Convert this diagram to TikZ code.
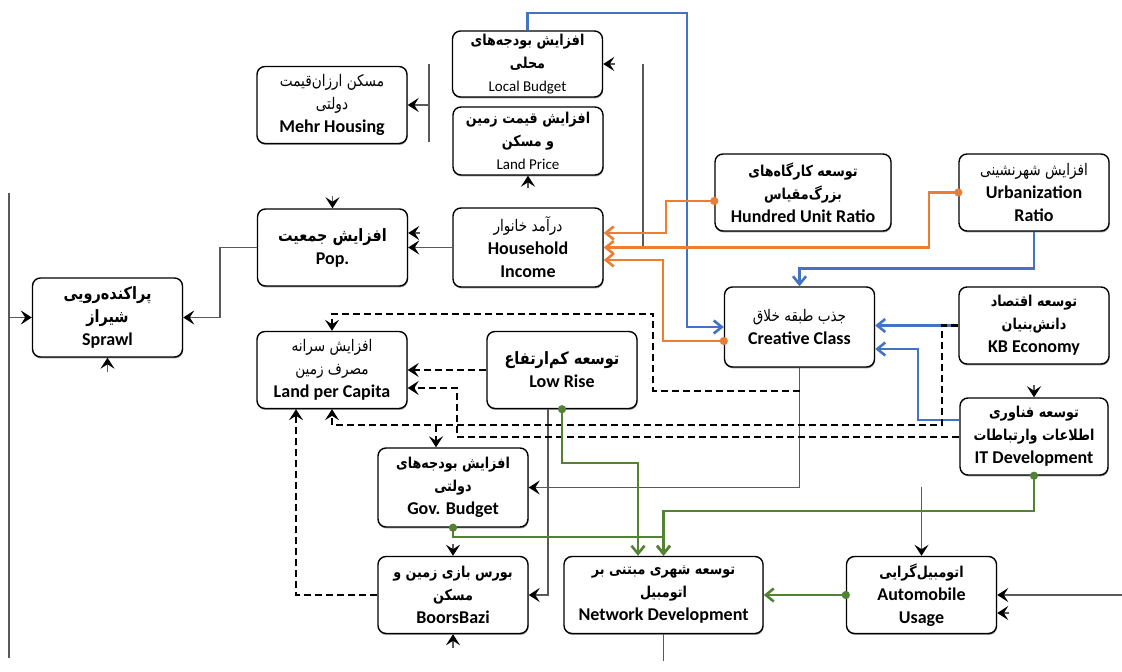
\documentclass[tikz,border=0pt]{standalone}
\usepackage{fontspec}
\setmainfont{Carlito}
\newfontfamily\farsi[Script=Arabic, FakeStretch=0.85]{DejaVu Sans}
\TeXXeTstate=1
\usetikzlibrary{arrows.meta,shadows,calc}

\definecolor{cblue}{HTML}{4472C4}
\definecolor{corange}{HTML}{ED7D31}
\definecolor{cgreen}{HTML}{548235}
\definecolor{linegray}{HTML}{595959}

\newcommand{\fatxt}[1]{{\farsi\mdseries\fontsize{8}{10}\selectfont\beginR #1\endR}}
\newcommand{\fabold}[1]{{\farsi\bfseries\fontsize{7.5}{10}\selectfont\beginR #1\endR}}
\newcommand{\fabig}[1]{{\farsi\bfseries\fontsize{8.5}{10}\selectfont\beginR #1\endR}}
\newcommand{\ensmall}[1]{{\fontsize{7.5}{11}\selectfont\mdseries #1}}

\tikzset{
  box/.style={draw, rounded corners=4pt, line width=0.7pt, fill=white, align=center,
    minimum width=75pt, minimum height=38.5pt, inner sep=1pt,
    font=\fontsize{9}{11.5}\selectfont\bfseries,
    drop shadow={shadow xshift=0.3pt, shadow yshift=-0.7pt, fill=black!80}},
  gline/.style={draw=linegray, line width=0.8pt},
  garrow/.style={gline, -{Stealth[length=5.5pt, width=7pt, inset=2.2pt, color=black]}},
  darrow/.style={draw=black, line width=1.1pt, dash pattern=on 3.5pt off 2pt,
    -{Stealth[length=5.5pt, width=7pt, inset=2.2pt]}},
  bline/.style={draw=cblue, line width=1.3pt, -{Straight Barb[length=4pt, width=6.5pt]}},
  oline/.style={draw=corange, line width=1.3pt, shorten <=-2pt,
    {Circle[length=4pt]}-{Straight Barb[length=4pt, width=6.5pt]}},
  gnline/.style={draw=cgreen, line width=1.3pt, shorten <=-2pt,
    {Circle[length=4pt]}-{Straight Barb[length=4pt, width=6.5pt]}}
}

\begin{document}
\begin{tikzpicture}[x=0.5pt, y=-0.5pt]
\useasboundingbox (0,0) rectangle (1122,672);

% boxes
\node[box] (mehr) at (332,105) {\fatxt{مسکن ارزان‌قیمت}\\ \fatxt{دولتی}\\ Mehr Housing};
\node[box, minimum height=33pt] (localb) at (527.5,64) {\fabold{افزایش بودجه‌های}\\ \fabold{محلی}\\ \ensmall{Local Budget}};
\node[box, minimum height=34pt] (landp) at (528,141) {\fabold{افزایش قیمت زمین}\\ \fabold{و مسکن}\\ \ensmall{Land Price}};
\node[box, minimum width=88pt] (hundred) at (803,192.5) {\fabold{توسعه کارگاه‌های}\\ \fabold{بزرگ‌مقیاس}\\ Hundred Unit Ratio};
\node[box] (urban) at (1034,192.5) {\fatxt{افزایش شهرنشینی}\\ Urbanization\\ Ratio};
\node[box] (pop) at (332.5,247.5) {\fabig{افزایش جمعیت}\\ Pop.};
\node[box, minimum height=39.5pt] (income) at (528,247.5) {\fatxt{درآمد خانوار}\\ Household\\ Income};
\node[box, minimum height=39.5pt] (sprawl) at (107.5,317.5) {\fabig{پراکنده‌رویی}\\ \fabig{شیراز}\\ Sprawl};
\node[box] (landpc) at (332,370) {\fatxt{افزایش سرانه}\\ \fatxt{مصرف زمین}\\ Land per Capita};
\node[box] (lowrise) at (562,370) {\fabig{توسعه کم‌ارتفاع}\\ Low Rise};
\node[box, minimum height=40pt] (creative) at (799.5,327) {\fatxt{جذب طبقه خلاق}\\ Creative Class};
\node[box] (kb) at (1034,325.5) {\fabold{توسعه اقتصاد}\\ \fabold{دانش‌بنیان}\\ KB Economy};
\node[box, minimum width=74pt] (itdev) at (1034,436.5) {\fabold{توسعه فناوری}\\ \fabold{اطلاعات وارتباطات}\\ IT Development};
\node[box, minimum height=39.5pt] (govb) at (453,487.5) {\fabold{افزایش بودجه‌های}\\ \fabold{دولتی}\\ Gov. Budget};
\node[box] (boors) at (453,595) {\fabold{بورس بازی زمین و}\\ \fabold{مسکن}\\ BoorsBazi};
\node[box, minimum width=99.5pt] (network) at (663.5,595) {\fabold{توسعه شهری مبتنی بر}\\ \fabold{اتومبیل}\\ Network Development};
\node[box] (auto) at (921.5,595) {\fabold{اتومبیل‌گرایی}\\ Automobile\\ Usage};

% free ends
\coordinate (leftT) at (9,193);
\coordinate (leftB) at (9,658);
\coordinate (leftA) at (9,317.5);
\coordinate (brkT) at (429,64);
\coordinate (brkB) at (429,142);
\coordinate (brkA) at (429,105);
\coordinate (incT) at (643,64);
\coordinate (incB) at (643,247.5);
\coordinate (autoT) at (921.5,487);
\coordinate (rightA) at (1122,595);

% grey connectors
\draw[gline] (leftT) -- (leftB);
\draw[garrow] (leftA) -- (sprawl.west);
\draw[gline] (brkT) -- (brkB);
\draw[garrow] (brkA) -- (mehr.east);
\draw[gline] (incT) -- (incB);
\draw[garrow] (pop.west) -- ++(-37,0) |- (sprawl.east);
\draw[garrow] (income.west) -- (pop.east);
\draw[garrow] (creative.south) |- (govb.east);
\draw[garrow] ([xshift=-7pt]lowrise.south) |- (boors.east);
\draw[garrow] (autoT) -- (auto.north);
\draw[garrow] (rightA) -- (auto.east);
\draw[gline] (network.south) -- ++(0,27);

% stubs
\draw[garrow] ($(pop.east |- 0,233)+(12,0)$) -- (pop.east |- 0,233);
\draw[garrow] ([yshift=6pt]pop.north) -- (pop.north);
\draw[garrow] ([xshift=6pt]localb.east) -- (localb.east);
\draw[garrow] ([yshift=-6pt]landp.south) -- (landp.south);
\draw[garrow] ([yshift=-7pt]sprawl.south) -- (sprawl.south);
\draw[garrow] ([yshift=6pt]boors.north) -- (boors.north);
\draw[garrow] ([yshift=-7pt]boors.south) -- (boors.south);
\draw[garrow] ([yshift=6pt]itdev.north) -- (itdev.north);
\draw[garrow] ($(auto.east |- 0,613)+(12,0)$) -- (auto.east |- 0,613);

% blue
\draw[bline] (localb.north) |- (687,13) |- (creative.west);
\draw[bline] (urban.south) -- ++(0,37) -| (creative.north);
\draw[bline] (kb.west) -- (creative.east |- kb.west);
\draw[bline] (itdev.west |- 0,420) -| (918,349) -- (creative.east |- 0,349);

% dashed
\draw[darrow] (creative.south |- 0,391) -| (653,314) -| (landpc.north);
\draw[darrow] (lowrise.west) -- (landpc.east);
\draw[darrow] (itdev.west |- 0,437) -| (457,388) -- (landpc.east |- 0,388);
\draw[darrow] (kb.west) -| (942,425) -| (landpc.south);
\draw[darrow] (436,425) -- (govb.north -| 436,0);
\draw[darrow] (boors.west) -| (landpc.south -| 296,0);

% orange
\draw[oline] (hundred.west |- 0,201) -| (666,233) -- (income.east |- 0,233);
\draw[oline] (urban.west) -| (929,247.5) -- (income.east);
\draw[oline] (creative.west |- 0,341) -| (663,260) -- (income.east |- 0,260);

% green
\draw[gnline] (lowrise.south) |- (638,463) -- (network.north -| 638,0);
\draw[gnline] (govb.south) |- (663.5,537) -- (network.north);
\draw[gnline] (itdev.south) |- (663.5,511) -- (network.north);
\draw[gnline] (auto.west) -- (network.east);
\end{tikzpicture}
\end{document}
